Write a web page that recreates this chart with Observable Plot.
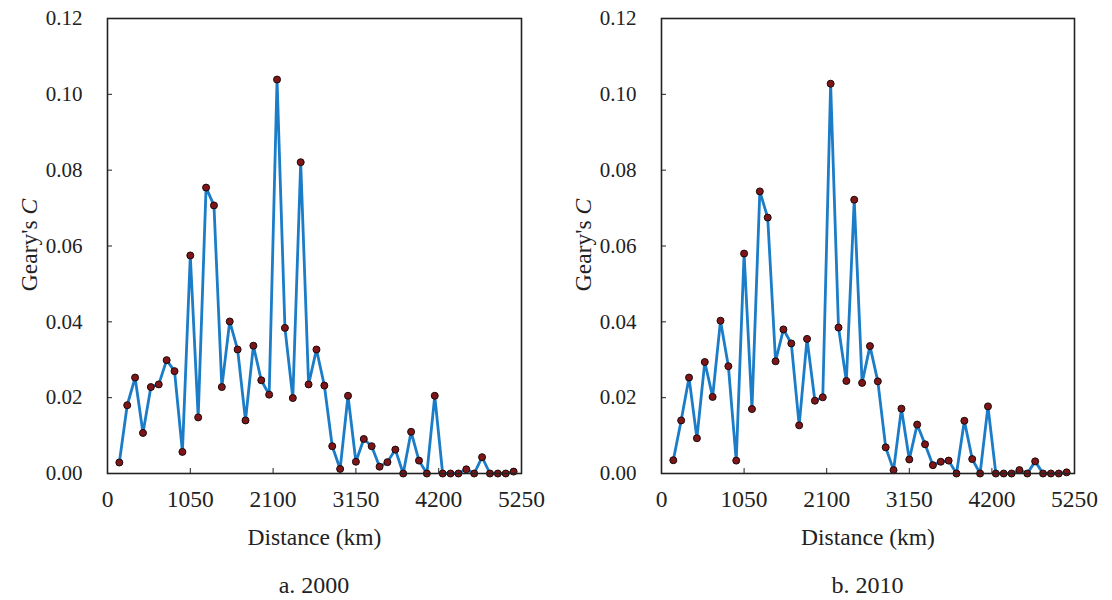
<!DOCTYPE html>
<html>
<head>
<meta charset="utf-8">
<script src="https://cdn.jsdelivr.net/npm/d3@7"></script>
<script src="https://cdn.jsdelivr.net/npm/@observablehq/plot@0.6"></script>
<style>
  body { margin: 0; background: #fff; font-family: "Liberation Serif", "Times New Roman", serif; }
  #wrap { position: relative; width: 1112px; height: 600px; overflow: hidden; }
  .panel { position: absolute; top: 0; width: 556px; height: 600px; }
  .panel svg { position: absolute; left: 0; top: 0; }
  .cap { position: absolute; top: 572px; font-size: 24px; color: #222; white-space: nowrap; transform: translateX(-50%); }
</style>
</head>
<body>
<div id="wrap">
  <div class="panel" id="p1"></div>
  <div class="panel" id="p2" style="left:556px"></div>
</div>
<script>
// Distance lags (km)
const distances = [150, 250, 350, 450, 550, 650, 750, 850, 950, 1050,
  1150, 1250, 1350, 1450, 1550, 1650, 1750, 1850, 1950, 2050,
  2150, 2250, 2350, 2450, 2550, 2650, 2750, 2850, 2950, 3050,
  3150, 3250, 3350, 3450, 3550, 3650, 3750, 3850, 3950, 4050,
  4150, 4250, 4350, 4450, 4550, 4650, 4750, 4850, 4950, 5050, 5150];

// Geary's C, year 2000
const geary2000 = [0.0029, 0.0180, 0.0253, 0.0107, 0.0228, 0.0235, 0.0299, 0.0270, 0.0057, 0.0575,
  0.0148, 0.0754, 0.0707, 0.0228, 0.0401, 0.0327, 0.0140, 0.0337, 0.0246, 0.0208,
  0.1039, 0.0384, 0.0199, 0.0821, 0.0235, 0.0327, 0.0232, 0.0072, 0.0012, 0.0205,
  0.0031, 0.0091, 0.0072, 0.0018, 0.0030, 0.0063, 0.0000, 0.0110, 0.0034, 0.0000,
  0.0205, 0.0000, 0.0000, 0.0000, 0.0011, 0.0000, 0.0043, 0.0000, 0.0000, 0.0000, 0.0005];

// Geary's C, year 2010
const geary2010 = [0.0035, 0.0140, 0.0253, 0.0093, 0.0294, 0.0202, 0.0403, 0.0283, 0.0034, 0.0580,
  0.0170, 0.0744, 0.0675, 0.0296, 0.0380, 0.0343, 0.0127, 0.0355, 0.0192, 0.0201,
  0.1028, 0.0385, 0.0244, 0.0722, 0.0239, 0.0336, 0.0243, 0.0069, 0.0009, 0.0171,
  0.0037, 0.0129, 0.0077, 0.0022, 0.0031, 0.0034, 0.0000, 0.0139, 0.0038, 0.0000,
  0.0177, 0.0000, 0.0000, 0.0000, 0.0009, 0.0000, 0.0032, 0.0000, 0.0000, 0.0000, 0.0003];

const xTicks = [0, 1050, 2100, 3150, 4200, 5250];
const yTicks = [0, 0.02, 0.04, 0.06, 0.08, 0.10, 0.12];
const captions = ["a. 2000", "b. 2010"];

function panel(values, marginLeft, marginRight) {
  const data = distances.map((d, i) => ({distance: d, c: values[i]}));
  const W = 556, H = 560;
  const svg = Plot.plot({
    width: W, height: H,
    marginLeft, marginRight, marginTop: 18, marginBottom: 87,
    style: {fontFamily: "'Liberation Serif', 'Times New Roman', serif", fontSize: "21px", color: "#222", background: "transparent"},
    x: {domain: [0, 5250]},
    y: {domain: [0, 0.12]},
    marks: [
      Plot.axisX({ticks: xTicks, tickSize: -5, tickPadding: 22, tickFormat: d => String(d),
        label: "Distance (km)", labelAnchor: "center", labelArrow: "none", labelOffset: 71, fontSize: 23.5}),
      Plot.axisY({ticks: yTicks, tickSize: -5, tickPadding: 30, tickFormat: d3.format(".2f"), label: null}),
      Plot.line(data, {x: "distance", y: "c", stroke: "#1b7cc8", strokeWidth: 2.8}),
      Plot.dot(data, {x: "distance", y: "c", r: 3.5, fill: "#7e1518", stroke: "#1a0a0a", strokeWidth: 1}),
      Plot.frame({stroke: "#222", strokeWidth: 1.6})
    ]
  });
  // y-axis title with italic C
  const t = d3.select(svg).append("text")
    .attr("transform", `translate(${marginLeft - 70},245) rotate(-90)`)
    .attr("text-anchor", "middle")
    .attr("fill", "#222")
    .attr("font-size", 23.5);
  t.append("tspan").text("Geary's ");
  t.append("tspan").attr("font-style", "italic").text("C");
  return {svg, cx: marginLeft + (W - marginLeft - marginRight) / 2};
}

const a = panel(geary2000, 107, 35);
const b = panel(geary2010, 105, 38);
document.getElementById("p1").appendChild(a.svg);
document.getElementById("p2").appendChild(b.svg);
[[a, "p1"], [b, "p2"]].forEach(([p, id], i) => {
  const d = document.createElement("div");
  d.className = "cap";
  d.style.left = p.cx + "px";
  d.textContent = captions[i];
  document.getElementById(id).appendChild(d);
});
</script>
</body>
</html>
